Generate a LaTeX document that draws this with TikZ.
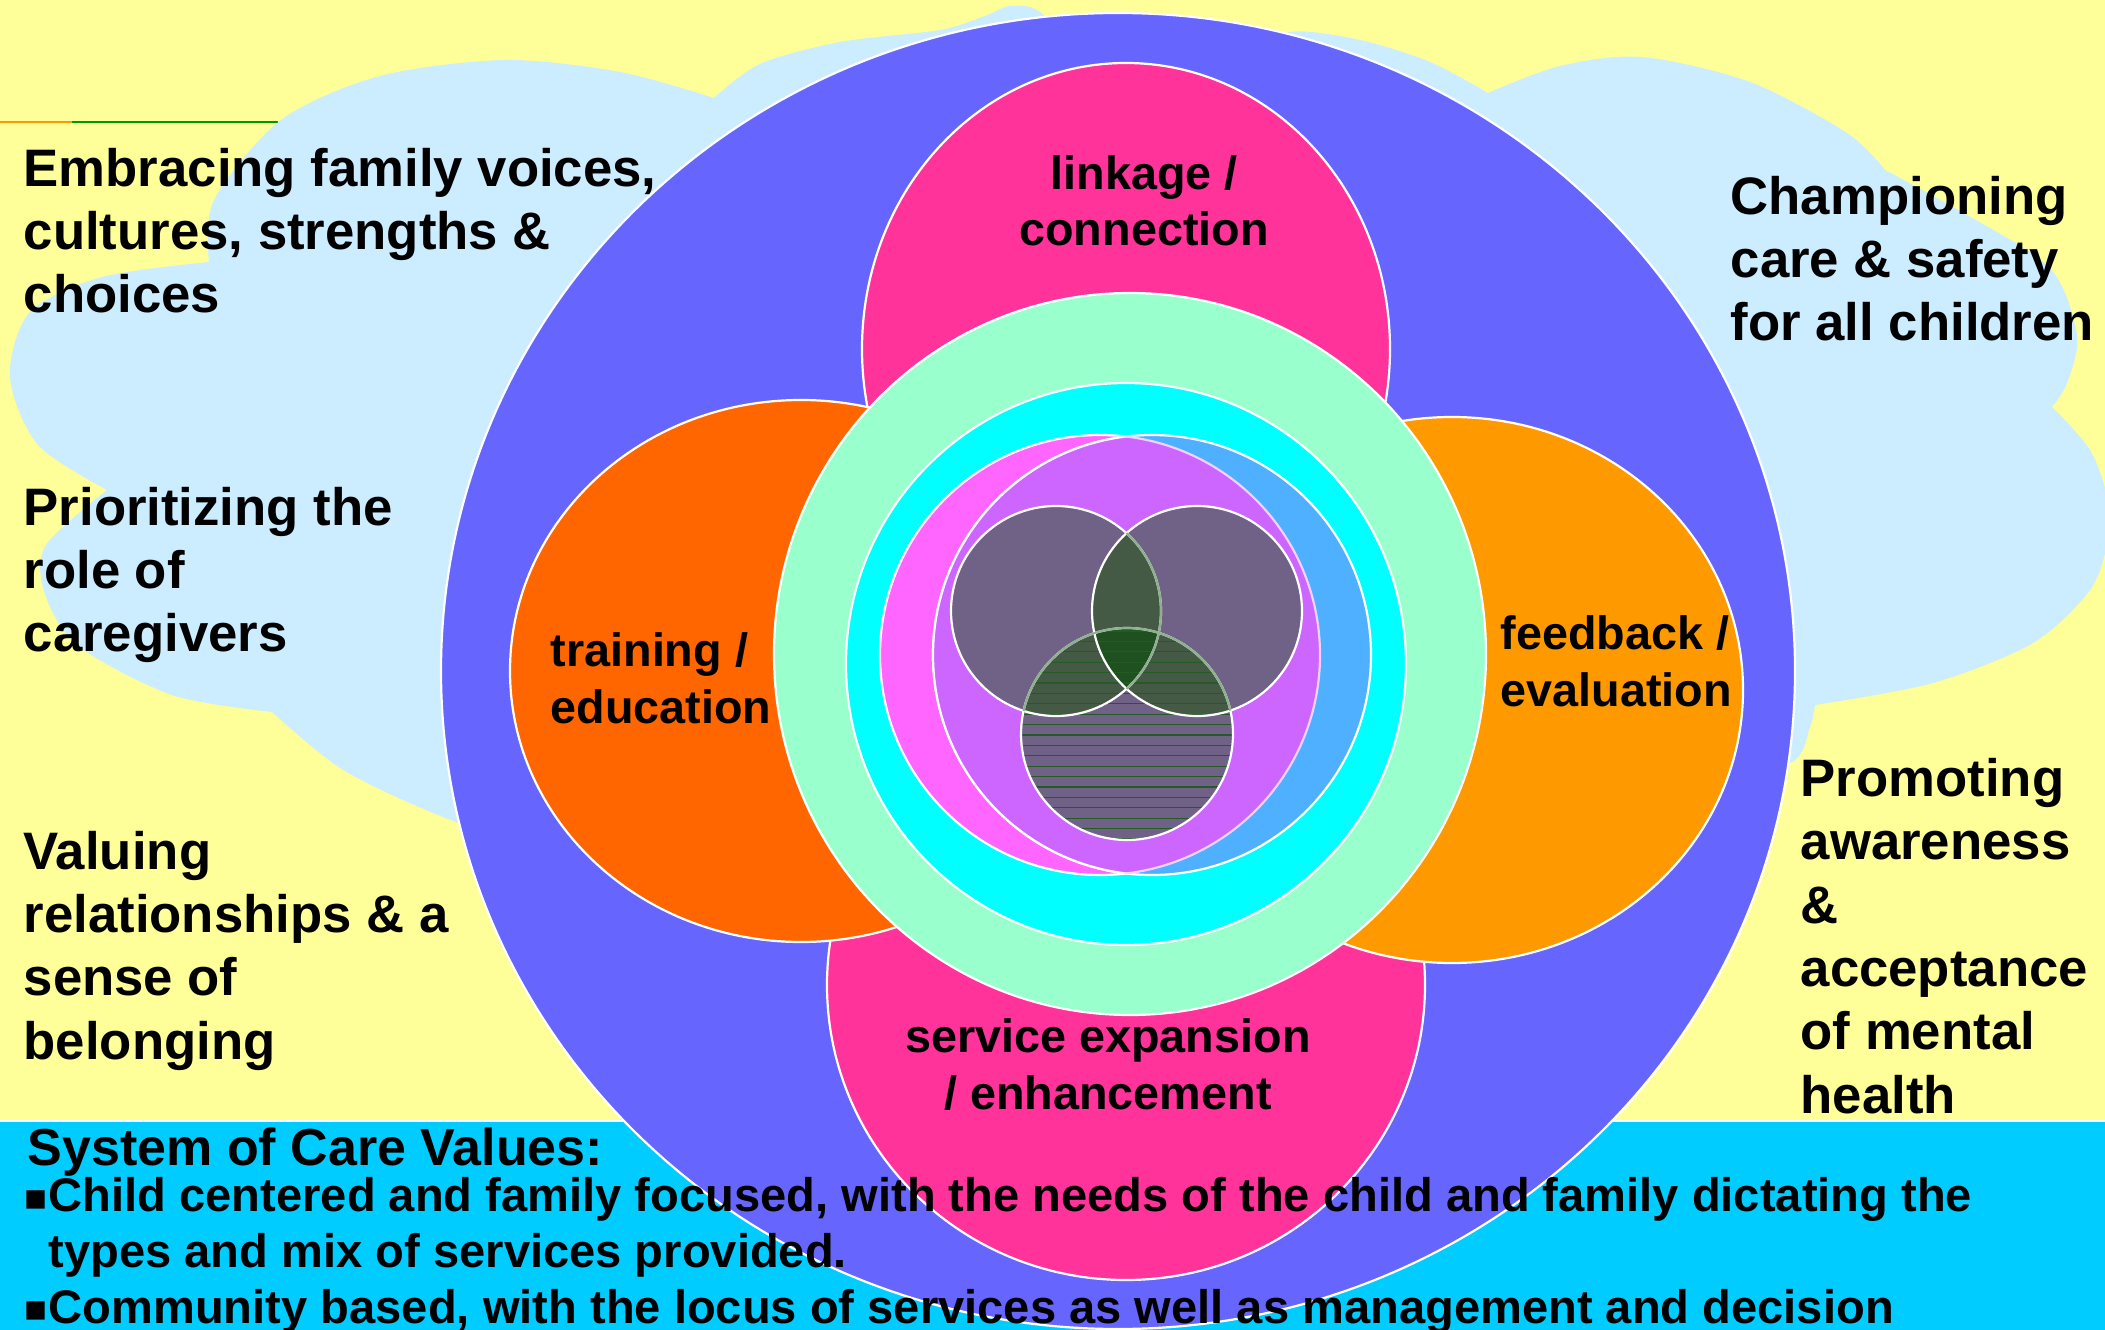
\documentclass[tikz,border=0pt]{standalone}
\usepackage{fontspec}
\setmainfont{Liberation Sans}
\newfontfamily\squarefont{DejaVu Sans}
\usetikzlibrary{positioning}

\definecolor{slideyellow}{HTML}{FFFF99}
\definecolor{cloudblue}{HTML}{CCECFF}
\definecolor{bandcyan}{HTML}{00CCFF}
\definecolor{outerblue}{HTML}{6666FF}
\definecolor{hotpink}{HTML}{FF3399}
\definecolor{deeporange}{HTML}{FF6600}
\definecolor{lightorange}{HTML}{FF9900}
\definecolor{mint}{HTML}{99FFCC}
\definecolor{aqua}{HTML}{00FFFF}
\definecolor{brightmagenta}{HTML}{FF66FF}
\definecolor{skyblue}{HTML}{4FB0FF}
\definecolor{lilac}{HTML}{CC66FF}
\definecolor{dusk}{HTML}{706286}
\definecolor{mossgreen}{HTML}{455A45}
\definecolor{darkmoss}{HTML}{1F501F}
\definecolor{hatchgreen}{HTML}{245A24}
\definecolor{palegreen}{HTML}{8FB08F}

\begin{document}
\begin{tikzpicture}[x=0.1mm, y=-0.1mm,
    every node/.style={inner sep=0, text=black},
    blob/.style={fill=#1, draw=white, line width=0.22mm},
    value/.style={anchor=base west, align=left, font=\bfseries\fontsize{15}{18}\selectfont},
    area/.style={anchor=base, align=center, font=\bfseries\fontsize{13.3}{16}\selectfont},
    arealeft/.style={area, anchor=base west, align=left},
    bandtext/.style={anchor=base west, align=left, font=\bfseries\fontsize{13.4}{15.7}\selectfont},
    bulletmark/.style={anchor=base west, font=\squarefont\fontsize{10.5}{12}\selectfont}
]

% Slide
\useasboundingbox (0,0) rectangle (2105,1330);
\clip (0,0) rectangle (2105,1330);
\fill[slideyellow] (0,0) rectangle (2105,1330);

% Values band
\fill[bandcyan] (0,1121) rectangle (2105,1330);
\draw[white, line width=0.2mm] (0,1121) -- (2105,1121);

% Rule under the title
\draw[orange!80!yellow, line width=0.15mm] (0,122) -- (72,122);
\draw[green!60!black, line width=0.15mm] (72,122) -- (278,122);

% Cloud
\fill[cloudblue]
    plot[smooth] coordinates {(560,850) (456,822) (345,771) (272,712)}
 -- plot[smooth] coordinates {(272,712) (172,695) (77,645) (44,591) (46,545) (107,490)}
 -- plot[smooth] coordinates {(107,490) (38,445) (10,377) (30,312) (102,277) (209,262)}
 -- plot[smooth] coordinates {(209,262) (214,200) (281,120) (380,76) (505,60) (620,72) (714,98)}
 -- plot[smooth] coordinates {(714,98) (760,64) (840,42) (940,30) (985,16) (1010,6) (1040,12) (1080,60)}
 -- plot[smooth] coordinates {(1250,60) (1290,32) (1360,40) (1430,62) (1488,93)}
 -- plot[smooth] coordinates {(1488,93) (1560,66) (1642,57) (1750,82) (1847,133) (1885,170)}
 -- plot[smooth] coordinates {(1885,170) (1967,215) (2050,268) (2077,335) (2067,383) (2052,407)}
 -- plot[smooth] coordinates {(2052,407) (2090,450) (2108,500) (2108,540) (2090,590) (2033,643) (1933,683) (1815,705)}
 -- plot[smooth] coordinates {(1815,705) (1810,727) (1790,763) (1700,770)}
 -- cycle;

% Centres
\coordinate (hub) at (1118,671);
\coordinate (link) at (1126,349);
\coordinate (service) at (1126,985);
\coordinate (training) at (801,671);
\coordinate (feedback) at (1452,690);
\coordinate (mintring) at (1130,654);
\coordinate (aquaring) at (1126,664);
\coordinate (child) at (1100,655);
\coordinate (family) at (1152,655);
\coordinate (venn-l) at (1056,611);
\coordinate (venn-r) at (1197,611);
\coordinate (venn-b) at (1127,734);

% Outer circle and the four areas
\path[blob=outerblue] (hub) ellipse [x radius=677, y radius=658];
\path[blob=hotpink] (link) ellipse [x radius=264, y radius=286];
\path[blob=hotpink] (service) ellipse [x radius=299, y radius=295];
\path[blob=deeporange] (training) ellipse [x radius=291, y radius=271];
\path[blob=lightorange] (feedback) ellipse [x radius=291, y radius=273];

% Rings
\path[blob=mint] (mintring) ellipse [x radius=356, y radius=361];
\path[blob=aqua] (aquaring) ellipse [x radius=280, y radius=281];

% Child and family
\path[blob=brightmagenta] (child) ellipse [x radius=220, y radius=220];
\path[blob=skyblue] (family) ellipse [x radius=219, y radius=220];
\begin{scope}
  \clip (child) ellipse [x radius=220, y radius=220];
  \fill[lilac] (family) ellipse [x radius=219, y radius=220];
  \draw[white, line width=0.22mm] (family) ellipse [x radius=219, y radius=220];
\end{scope}
\begin{scope}
  \clip (family) ellipse [x radius=219, y radius=220];
  \draw[white!70!lilac, line width=0.22mm] (child) ellipse [x radius=220, y radius=220];
\end{scope}

% Venn circles
\fill[dusk] (venn-l) circle [radius=105];
\fill[dusk] (venn-r) circle [radius=105];
\fill[dusk] (venn-b) circle [radius=106];
\begin{scope}
  \clip (venn-l) circle [radius=105];
  \fill[mossgreen] (venn-r) circle [radius=105];
  \fill[mossgreen] (venn-b) circle [radius=106];
\end{scope}
\begin{scope}
  \clip (venn-r) circle [radius=105];
  \fill[mossgreen] (venn-b) circle [radius=106];
  \clip (venn-l) circle [radius=105];
  \fill[darkmoss] (venn-b) circle [radius=106];
\end{scope}
\begin{scope}
  \clip (venn-b) circle [radius=106];
  \foreach \k in {0,...,20}
    \draw[hatchgreen, line width=0.12mm] (1000,631+10.4*\k) -- (1260,631+10.4*\k);
\end{scope}
\draw[white, line width=0.22mm] (venn-l) circle [radius=105];
\draw[white, line width=0.22mm] (venn-r) circle [radius=105];
\draw[white, line width=0.22mm] (venn-b) circle [radius=106];
\begin{scope}
  \clip (venn-r) circle [radius=105];
  \draw[palegreen, line width=0.22mm] (venn-l) circle [radius=105];
\end{scope}
\begin{scope}
  \clip (venn-l) circle [radius=105] (venn-r) circle [radius=105];
  \draw[palegreen, line width=0.22mm] (venn-b) circle [radius=106];
\end{scope}

% Values around the circle (placed at the baseline of their last line)
\node[value] (embrace) at (23,313) {Embracing family voices,\\cultures, strengths \&\\choices};
\node[value] (caregivers) at (23,652) {Prioritizing the\\role of\\caregivers};
\node[value] (belonging) at (23,1059) {Valuing\\relationships \& a\\sense of\\belonging};
\node[value] (safety) at (1730,341) {Championing\\care \& safety\\for all children};
\node[value] (awareness) at (1800,1113) {Promoting\\awareness\\\&\\acceptance\\of mental\\health};

% Area labels
\node[area] (linkage) at (1144,246) {linkage /\\connection};
\node[arealeft] (education) at (550,723) {training /\\education};
\node[arealeft] (evaluation) at (1500,706) {feedback /\\evaluation};
\node[area] (expansion) at (1108,1109) {service expansion\\/ enhancement};

% System of care values
\node[bandtext, font=\bfseries\fontsize{14.8}{17}\selectfont] (soc) at (27,1165) {System of Care Values:};
\node[bulletmark] (bullet1) at (23,1209) {▪};
\node[bandtext] (focus) at (48,1267) {Child centered and family focused, with the needs of the child and family dictating the\\types and mix of services provided.};
\node[bulletmark] (bullet2) at (23,1320) {▪};
\node[bandtext] (community) at (48,1323) {Community based, with the locus of services as well as management and decision};

\end{tikzpicture}
\end{document}
